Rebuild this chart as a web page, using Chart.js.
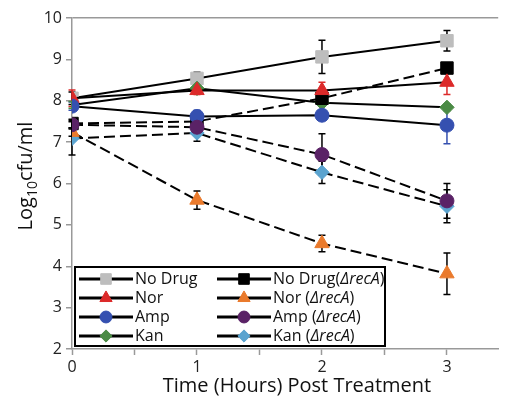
<!DOCTYPE html>
<html>
<head>
<meta charset="utf-8">
<script src="https://cdn.jsdelivr.net/npm/chart.js@4.4.0/dist/chart.umd.min.js"></script>
<style>
  html, body { margin: 0; padding: 0; background: #fff; }
  #wrap { width: 508px; height: 398px; }
</style>
</head>
<body>
<div id="wrap"><canvas id="cfuChart" width="508" height="398"></canvas></div>
<script>
// hours post treatment
let times = [0, 1, 2, 3];
let xTickLabels = ['0', '1', '2', '3'];
let yTickLabels = [2, 3, 4, 5, 6, 7, 8, 9, 10];

// log10 cfu/ml
let noDrug      = [8.06, 8.54, 9.06, 9.45];
let noDrugErr   = [0.15, 0.15, 0.40, 0.25];
let noDrugRecA  = [7.45, 7.50, 8.06, 8.79];
let noDrugRecAErr = [0.10, 0.10, 0.10, 0.10];
let nor         = [8.06, 8.25, 8.25, 8.45];
let norErr      = [0.20, 0.10, 0.20, 0.30];
let norRecA     = [7.24, 5.60, 4.55, 3.82];
let norRecAErr  = [0.10, 0.22, 0.20, 0.50];
let amp         = [7.87, 7.62, 7.65, 7.41];
let ampErr      = [0.10, 0.15, 0.10, 0.45];
let ampRecA     = [7.42, 7.36, 6.70, 5.58];
let ampRecAErr  = [0.10, 0.10, 0.50, 0.42];
let kan         = [7.90, 8.30, 7.95, 7.84];
let kanErr      = [0.08, 0.08, 0.08, 0.08];
let kanRecA     = [7.09, 7.22, 6.27, 5.45];
let kanRecAErr  = [0.40, 0.20, 0.27, 0.40];

let FONT = '"Open Sans", "DejaVu Sans", sans-serif';

function pts(vals){
    return vals.map((v, i) => ({x: times[i], y: v}));
}

// order: higher number is drawn first (further back)
function makeSet(label, recA, vals, errs, color, style, radius, errColor, order){
    return {
        label: label,
        recA: recA,
        order: order,
        data: pts(vals),
        errors: errs,
        errColor: errColor,
        borderColor: '#000',
        borderWidth: 2,
        borderDash: recA ? [11, 5] : [],
        pointStyle: style,
        pointRadius: radius,
        pointHoverRadius: radius,
        pointBackgroundColor: color,
        pointBorderColor: color,
        pointBorderWidth: 1,
        fill: false,
        tension: 0
    };
}

let datasets = [
    makeSet('No Drug', false, noDrug, noDrugErr, '#bdbdbd', 'rect', 8.8, '#000', 8),
    makeSet('No Drug(', true, noDrugRecA, noDrugRecAErr, '#000000', 'rect', 8.8, '#000', 6),
    makeSet('Nor', false, nor, norErr, '#dc2a2a', 'triangle', 8.3, '#dc2a2a', 5),
    makeSet('Nor (', true, norRecA, norRecAErr, '#ea7a2c', 'triangle', 8.3, '#000', 2),
    makeSet('Amp', false, amp, ampErr, '#3550b0', 'circle', 7, '#3550b0', 4),
    makeSet('Amp (', true, ampRecA, ampRecAErr, '#5a2266', 'circle', 7, '#000', 1),
    makeSet('Kan', false, kan, kanErr, '#4b8b45', 'rectRot', 7.2, '#4b8b45', 7),
    makeSet('Kan (', true, kanRecA, kanRecAErr, '#5aa3cf', 'rectRot', 7.2, '#000', 3)
];

// error bars drawn under the markers
let errorBars = {
    id: 'errorBars',
    beforeDatasetsDraw(chart){
        let ctx = chart.ctx;
        let xs = chart.scales.x, ys = chart.scales.y;
        ctx.save();
        ctx.setLineDash([]);
        chart.data.datasets.forEach(ds => {
            ctx.strokeStyle = ds.errColor;
            ctx.lineWidth = 1.5;
            ds.data.forEach((p, i) => {
                let e = ds.errors[i];
                let px = xs.getPixelForValue(p.x);
                let top = ys.getPixelForValue(p.y + e);
                let bot = ys.getPixelForValue(p.y - e);
                ctx.beginPath();
                ctx.moveTo(px, top); ctx.lineTo(px, bot);
                ctx.moveTo(px - 3.5, top); ctx.lineTo(px + 3.5, top);
                ctx.moveTo(px - 3.5, bot); ctx.lineTo(px + 3.5, bot);
                ctx.stroke();
            });
        });
        ctx.restore();
    }
};

// boxed two column legend plus the axis titles
let boxLegend = {
    id: 'boxLegend',
    afterDraw(chart){
        let ctx = chart.ctx;
        let sets = chart.data.datasets;
        ctx.save();
        ctx.setLineDash([]);
        ctx.fillStyle = '#fff';
        ctx.fillRect(75, 267, 310, 79);
        ctx.strokeStyle = '#000';
        ctx.lineWidth = 2;
        ctx.strokeRect(75, 267, 310, 79);
        let rows = [279, 298, 317, 336];
        let cols = [79, 217];
        sets.forEach((ds, i) => {
            let col = cols[i % 2];
            let y = rows[Math.floor(i / 2)];
            ctx.setLineDash([]);
            ctx.strokeStyle = '#000';
            ctx.lineWidth = 2.8;
            ctx.lineCap = 'butt';
            ctx.beginPath();
            ctx.moveTo(col, y); ctx.lineTo(col + 54, y);
            ctx.stroke();
            ctx.fillStyle = ds.pointBackgroundColor;
            ctx.strokeStyle = ds.pointBackgroundColor;
            ctx.lineWidth = 1;
            Chart.helpers.drawPoint(ctx, {pointStyle: ds.pointStyle, radius: ds.pointRadius * 0.85, rotation: 0, borderWidth: 1}, col + 27, y);
            ctx.fillStyle = '#111';
            ctx.textBaseline = 'middle';
            ctx.textAlign = 'left';
            let tx = col + 56;
            ctx.font = '16px ' + FONT;
            ctx.fillText(ds.label, tx, y);
            if(ds.recA){
                tx += ctx.measureText(ds.label).width;
                ctx.font = 'italic 16px ' + FONT;
                ctx.fillText('\u0394recA', tx, y);
                tx += ctx.measureText('\u0394recA').width;
                ctx.font = '16px ' + FONT;
                ctx.fillText(')', tx, y);
            }
        });

        // y title with subscript
        ctx.translate(26, 176);
        ctx.rotate(-Math.PI / 2);
        ctx.fillStyle = '#111';
        ctx.textBaseline = 'middle';
        ctx.font = '20px ' + FONT;
        let w1 = ctx.measureText('Log').width;
        ctx.font = '14px ' + FONT;
        let w2 = ctx.measureText('10').width;
        ctx.font = '20px ' + FONT;
        let w3 = ctx.measureText('cfu/ml').width;
        let start = -(w1 + w2 + w3) / 2;
        ctx.textAlign = 'left';
        ctx.fillText('Log', start, 0);
        ctx.font = '14px ' + FONT;
        ctx.fillText('10', start + w1, 7);
        ctx.font = '20px ' + FONT;
        ctx.fillText('cfu/ml', start + w1 + w2, 0);
        ctx.setTransform(1, 0, 0, 1, 0, 0);

        ctx.textAlign = 'center';
        ctx.font = '20px ' + FONT;
        ctx.fillText('Time (Hours) Post Treatment', 297, 386);
        ctx.restore();
    }
};

let ctx = document.getElementById('cfuChart');
new Chart(ctx, {
    type: 'line',
    data: { datasets: datasets },
    plugins: [errorBars, boxLegend],
    options: {
        responsive: false,
        animation: false,
        layout: { padding: { top: 18, right: 0, left: 0, bottom: 0 } },
        plugins: { legend: { display: false }, tooltip: { enabled: false } },
        scales: {
            x: {
                type: 'linear',
                min: 0,
                max: 3.41,
                afterFit: function(scale){ scale.height = 49; },
                border: { display: true, color: '#999', width: 1.5 },
                grid: { drawOnChartArea: false, tickLength: 6, tickColor: '#999', tickWidth: 1.5 },
                ticks: {
                    stepSize: 0.5,
                    includeBounds: false,
                    maxRotation: 0,
                    autoSkip: false,
                    padding: 3,
                    color: '#222',
                    font: { family: FONT, size: 16 },
                    callback: function(v){
                        let i = times.indexOf(v);
                        return i >= 0 ? xTickLabels[i] : '';
                    }
                }
            },
            y: {
                min: yTickLabels[0],
                max: yTickLabels[yTickLabels.length - 1],
                afterFit: function(scale){ scale.width = 72; },
                border: { display: true, color: '#999', width: 1.5 },
                grid: {
                    drawOnChartArea: true,
                    tickLength: 6,
                    tickColor: '#999',
                    tickWidth: 1.5,
                    lineWidth: 1.5,
                    color: function(c){ return c.tick && c.tick.value === 10 ? '#999' : 'rgba(0,0,0,0)'; }
                },
                ticks: {
                    stepSize: 1,
                    padding: 4,
                    color: '#222',
                    font: { family: FONT, size: 16 }
                }
            }
        }
    }
});
</script>
</body>
</html>
